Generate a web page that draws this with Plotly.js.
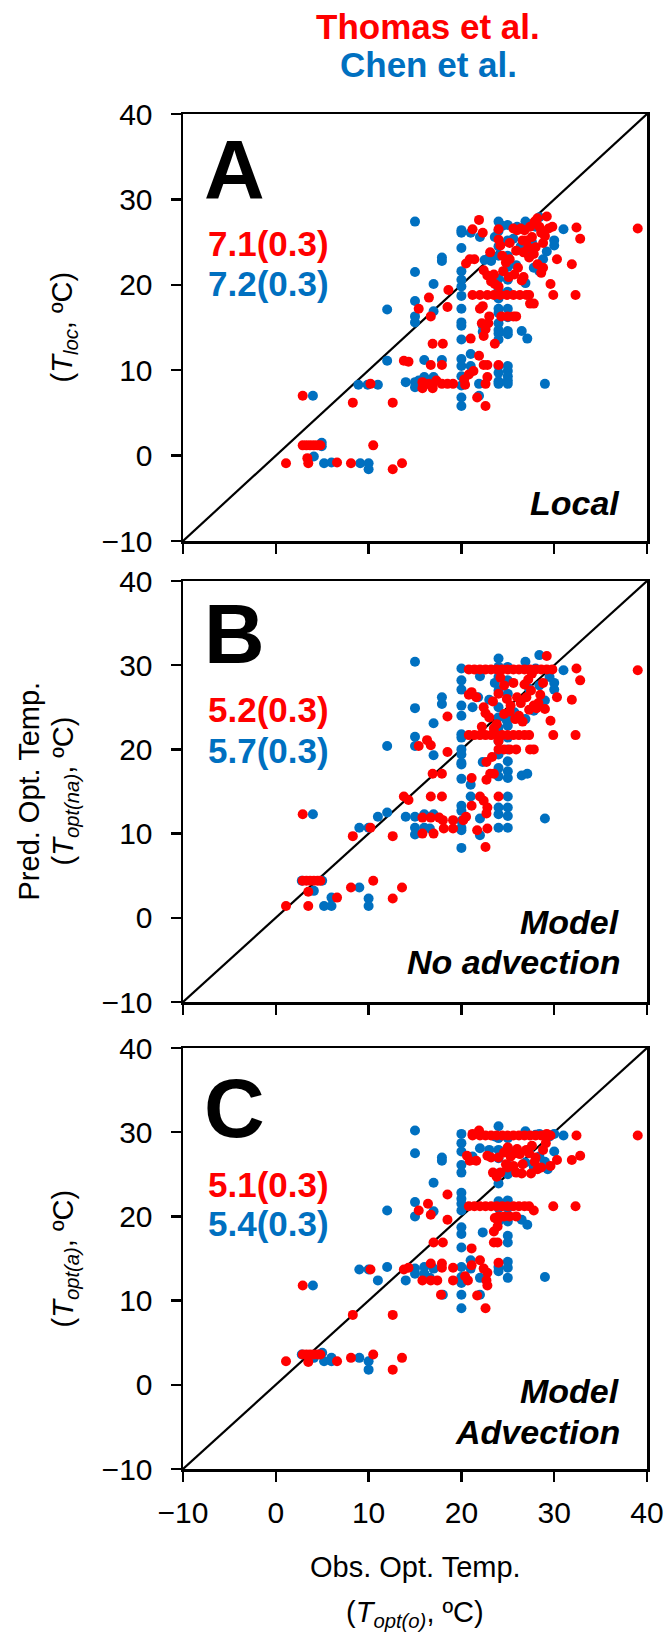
<!DOCTYPE html>
<html><head><meta charset="utf-8">
<script src="https://cdn.plot.ly/plotly-3.0.1.min.js"></script>
<style>html,body{margin:0;padding:0;background:#fff}#chart{width:668px;height:1642px}</style>
</head><body><div id="chart"></div>
<script>
// ---------- DATA (observed optimum temp, predicted temp) ----------
const seriesNames = ["Thomas et al.", "Chen et al."];
const panelLetters = ["A", "B", "C"];
const panelLabels = [["Local"], ["Model", "No advection"], ["Model", "Advection"]];
const rmseThomas = ["7.1(0.3)", "5.2(0.3)", "5.1(0.3)"];
const rmseChen = ["7.2(0.3)", "5.7(0.3)", "5.4(0.3)"];
const yTitles = ["(<i>T</i><sub><i>loc</i></sub>, ºC)", "(<i>T</i><sub><i>opt(na)</i></sub>, ºC)", "(<i>T</i><sub><i>opt(a)</i></sub>, ºC)"];
const tickValues = [-10, 0, 10, 20, 30, 40];

// Panel A – Local temperature
const thomasA = [
[39.0,26.6],[32.4,26.7],[32.8,25.4],[31.9,22.4],[32.3,18.8],[29.9,18.8],[29.6,20.1],[30.3,23.0],[29.2,28.0],
[21.9,27.6],[21.2,26.5],[22.3,26.1],[20.9,23.0],[21.4,23.0],[20.5,22.5],
[21.2,18.8],[22.0,18.8],[22.8,18.8],[23.5,18.8],[24.2,18.8],[24.9,18.8],[25.6,18.8],[26.3,18.8],[27.0,18.8],[27.3,18.8],
[24.3,16.3],[25.0,16.3],[25.6,16.3],[25.9,16.3],
[27.8,17.8],[27.4,17.8],[22.3,17.5],[22.0,17.2],[22.2,15.5],[23.0,16.3],[22.9,15.5],[22.6,14.8],[22.4,14.0],[23.6,13.1],[21.0,13.7],[21.9,11.7],[22.4,10.6],[22.8,10.6],[24.0,10.6],[21.3,9.9],[20.8,9.5],[20.3,8.9],[20.4,8.3],[22.8,9.2],[22.6,8.4],[21.7,6.8],[22.6,5.8],
[18.6,19.4],[18.5,17.4],[16.5,18.5],[15.4,17.2],[16.7,16.3],[16.9,13.1],[18.0,13.1],[16.7,10.6],[17.9,10.6],[13.8,11.1],[14.3,11.0],
[15.8,8.6],[16.5,8.4],[16.9,8.2],[17.3,8.8],[17.9,8.4],[18.5,8.4],[19.1,8.4],[15.8,7.9],[16.9,7.9],
[12.6,6.2],[8.3,6.2],[10.2,8.4],[2.9,7.0],[10.5,1.2],[13.6,-0.9],[12.6,-1.6],[8.1,-0.9],[6.6,-0.8],[1.1,-0.9],[3.5,-0.9],[3.4,-0.3],
[2.9,1.2],[3.3,1.2],[3.7,1.2],[4.1,1.2],[4.5,1.2],[4.8,1.2],
[24.0,26.5],[24.0,25.3],[24.2,24.6],[24.4,23.4],[24.8,22.6],[25.2,24.9],[25.6,26.6],[26.0,26.4],[26.4,26.6],[26.8,26.4],[27.0,25.2],[27.2,24.4],[27.4,26.8],[27.6,25.6],[27.8,23.6],[28.0,24.4],[28.4,26.8],[28.6,26.1],[28.8,24.9],[29.0,25.7],[29.4,26.6],[29.8,26.8],[28.8,22.0],[28.6,21.4],[28.2,22.4],[27.3,23.2],[26.7,23.8],[26.1,22.0],[25.7,21.2],[25.1,20.9],[24.5,21.6],[23.5,21.2],[23.2,20.4],[23.6,20.1],[22.4,21.7],[22.8,21.1],[24.0,19.8],[26.7,20.9],[26.5,20.5],[23.1,23.8],[25.9,24.0],[26.6,25.2],[25.2,23.0],[27.9,27.4],[28.2,27.8]
];
const chenA = [
[15.0,27.4],[15.0,21.5],[15.0,18.1],[15.0,16.3],[15.0,15.6],[17.9,23.2],[17.9,22.8],[17.0,20.1],[17.0,16.9],[12.0,17.1],[12.0,11.1],[16.0,11.2],[17.9,11.2],
[14.0,8.6],[15.0,8.6],[15.4,8.8],[16.0,9.2],[17.0,9.2],[15.0,8.0],[16.0,8.3],
[8.9,8.3],[9.9,8.3],[11.0,8.3],[4.0,7.0],[4.95,1.5],[4.95,1.1],[4.1,-0.1],[5.2,-0.9],[6.0,-0.8],[9.1,-0.9],[10.0,-0.9],[10.0,-1.6],
[20.0,26.1],[20.0,24.3],[20.0,21.6],[20.0,20.6],[20.0,19.8],[20.0,18.7],[20.0,17.2],[20.0,15.6],[20.0,15.2],[20.0,13.6],[20.0,11.3],[20.0,10.5],[20.0,9.3],[20.0,8.2],[20.0,6.8],[20.0,5.8],[20.0,26.4],
[21.0,26.1],[21.0,11.9],[21.0,10.5],[22.0,25.6],[21.9,8.4],[21.9,7.0],[22.5,22.9],[22.3,15.2],[22.3,14.5],
[24.0,27.4],[24.0,26.3],[24.0,24.5],[24.0,23.4],[24.0,20.7],[24.0,19.5],[24.0,18.4],[24.0,17.2],[24.0,16.7],[24.0,15.5],[24.0,14.7],[24.0,14.3],[24.0,13.6],[24.0,10.5],[24.0,9.7],[24.0,8.7],[24.0,8.4],
[25.0,27.0],[25.0,25.2],[25.0,23.4],[25.0,22.1],[25.0,20.6],[25.0,19.2],[25.0,17.2],[25.0,16.2],[25.0,14.6],[25.0,14.2],[25.0,10.5],[25.0,9.9],[25.0,9.3],[25.0,8.8],[25.0,8.4],
[26.5,14.6],[27.1,13.7],[29.0,8.4],[31.0,26.5],[30.0,25.2],[30.0,24.6],[28.4,27.9],[26.9,27.4],[28.0,26.8],[28.4,21.6],[27.8,22.0],[26.9,20.2],[25.9,22.3],[27.2,23.6],[23.0,23.2],[23.2,22.8],[23.6,25.6],[24.4,26.9],[26.0,26.8],[28.8,23.0],[29.2,23.9],[27.6,25.0],[26.4,24.5],[25.6,25.4]
];

// Panel B – Model, no advection
const thomasB = [
[39.0,29.4],[32.4,29.6],[32.8,28.2],[31.9,25.9],[32.3,21.7],[29.9,21.7],[29.6,23.4],[30.3,26.2],[29.2,31.1],
[20.8,29.5],[21.4,29.5],[22.0,29.5],[22.6,29.5],[23.2,29.5],[23.8,29.5],[24.4,29.5],[25.0,29.5],[25.6,29.5],[26.2,29.5],[26.8,29.5],[27.4,29.5],[28.0,29.5],[28.6,29.5],[29.2,29.5],[29.8,29.5],
[20.8,21.7],[21.4,21.7],[22.0,21.7],[22.6,21.7],[23.2,21.7],[23.8,21.7],[24.4,21.7],[25.0,21.7],[25.6,21.7],[26.2,21.7],[26.8,21.7],[27.3,21.7],
[24.0,20.0],[24.6,20.0],[25.2,20.0],[25.9,20.0],[27.8,20.0],[27.4,20.0],
[18.5,23.9],[16.3,21.1],[16.7,20.5],[15.4,20.4],[18.5,19.7],[16.9,17.1],[17.9,17.1],[16.7,14.4],[17.9,14.4],[13.8,14.4],[14.3,14.0],
[15.8,11.9],[16.7,11.9],[17.6,11.9],[18.0,11.6],[19.1,11.6],[18.1,10.6],[19.1,10.6],[15.8,10.0],[17.0,10.0],
[21.1,16.6],[22.0,14.4],[21.1,13.3],[22.4,13.9],[22.8,13.1],[22.7,12.4],[24.0,14.4],[20.5,12.0],[20.2,11.6],[21.7,10.4],[22.8,10.6],[22.6,8.4],
[22.7,16.4],[23.1,17.1],[23.5,17.1],[23.3,19.1],[22.7,18.5],[23.8,23.0],
[12.6,9.7],[8.3,9.7],[10.2,10.7],[2.9,12.3],[10.5,4.4],[13.6,3.6],[12.6,2.3],[8.1,3.6],[6.6,2.4],[1.1,1.4],[3.5,1.4],[3.5,3.1],
[2.9,4.4],[3.3,4.4],[3.7,4.4],[4.1,4.4],[4.5,4.4],[4.8,4.4],
[21.1,26.8],[21.6,26.2],[20.8,26.5],[22.4,25.0],[22.6,24.3],[23.0,23.8],[24.2,28.5],[24.6,27.6],[24.9,26.0],[25.3,25.2],[25.6,27.9],[26.0,26.2],[26.4,25.5],[26.8,27.7],[27.2,28.3],[27.5,27.0],[27.8,25.2],[28.1,24.9],[28.5,26.5],[28.8,27.9],[29.0,24.8],[27.0,26.2],[25.2,24.5],[24.6,24.2],[24.0,26.6],[23.4,25.7],[26.2,24.0],[26.6,23.3],[25.8,23.6],[28.3,25.5],[27.3,24.7],[27.6,29.0],[24.0,21.0],[23.5,22.5],[22.2,22.7]
];
const chenB = [
[15.0,30.4],[15.0,24.9],[15.0,21.5],[15.0,20.4],[17.9,26.2],[17.9,25.4],[17.0,23.1],[17.0,19.3],[12.0,20.4],[12.0,12.5],[11.0,12.0],[9.0,10.7],[10.0,10.7],
[14.0,12.0],[15.0,12.0],[16.0,12.3],[17.0,12.3],[15.0,10.7],[15.0,9.9],[16.0,10.7],[16.6,10.6],
[4.0,12.3],[2.8,4.4],[5.0,4.4],[4.1,3.2],[5.2,1.4],[6.0,1.4],[6.0,2.4],[9.0,3.6],[10.0,2.3],[10.0,1.4],
[20.0,29.6],[20.0,28.2],[20.0,27.1],[20.0,25.2],[20.0,24.0],[20.0,21.8],[20.0,21.4],[20.0,20.0],[20.0,19.4],[20.0,18.4],[20.0,18.2],[20.0,16.5],[20.0,13.3],[20.0,12.7],[20.0,11.5],[20.0,10.7],[20.0,10.4],[20.0,8.3],
[21.0,15.8],[21.0,14.4],[22.0,28.7],[22.0,11.8],[22.0,9.8],[22.3,18.5],[21.2,25.0],
[24.0,30.8],[24.0,29.8],[24.0,28.6],[24.0,27.0],[24.0,25.0],[24.0,23.8],[24.0,22.6],[24.0,21.0],[24.0,19.4],[24.0,17.8],[24.0,16.8],[24.0,13.1],[24.0,12.3],[24.0,10.7],
[25.0,29.8],[25.0,28.2],[25.0,26.6],[25.0,24.2],[25.0,22.8],[25.0,21.4],[25.0,20.0],[25.0,18.6],[25.0,17.4],[25.0,16.6],[25.0,14.4],[25.0,13.1],[25.0,12.1],[25.0,10.7],
[26.5,16.9],[27.1,17.1],[29.0,11.8],[31.0,29.4],[30.0,27.9],[30.0,27.1],[28.4,31.2],[26.9,30.4],[28.0,29.6],[29.0,25.8],[27.8,24.6],[26.9,23.6],[25.7,24.4],[24.9,23.4],[23.0,25.9],[23.6,27.9],[21.8,26.2],[27.3,27.2],[28.4,27.6],[29.5,28.6]
];

// Panel C – Model, advection
const thomasC = [
[39.0,29.6],[32.4,29.6],[32.8,27.2],[31.9,26.7],[32.3,21.2],[29.9,21.2],[29.6,26.0],[30.3,26.7],[29.2,29.8],
[21.2,29.6],[22.0,29.6],[22.6,29.6],[23.2,29.6],[23.8,29.6],[24.4,29.6],[25.0,29.6],[25.6,29.6],[26.2,29.6],[26.8,29.6],[27.4,29.6],[28.0,29.6],[28.6,29.6],[29.2,29.6],[29.6,29.6],
[20.8,21.2],[21.4,21.2],[22.0,21.2],[22.6,21.2],[23.2,21.2],[23.8,21.2],[24.4,21.2],[25.0,21.2],[25.6,21.2],[26.2,21.2],[26.8,21.2],[27.3,21.2],
[24.0,20.0],[24.6,20.0],[25.2,20.0],[25.9,20.0],[27.8,20.7],
[21.9,30.2],[21.2,29.8],[20.6,27.2],[20.9,26.6],[21.6,26.6],
[18.5,22.6],[18.5,19.6],[15.4,20.7],[16.4,21.5],[16.7,20.2],[17.0,16.9],[18.0,16.9],[16.7,14.4],[17.9,14.4],[13.8,13.7],[14.3,13.9],
[15.8,12.4],[16.7,12.4],[17.4,12.4],[19.1,12.4],[17.9,13.9],[19.1,13.9],[17.8,10.7],
[21.1,16.2],[22.0,14.8],[21.1,14.2],[22.4,13.8],[22.8,13.3],[22.7,12.4],[22.8,11.8],[24.0,14.5],[20.4,12.9],[20.7,12.4],[21.7,10.6],[22.6,9.1],
[23.5,16.9],[23.9,16.9],[23.9,19.6],[23.9,18.8],[23.6,19.8],[23.5,18.2],
[12.6,8.3],[8.3,8.3],[10.2,13.7],[2.9,11.8],[10.5,3.6],[13.6,3.2],[12.6,1.8],[8.1,3.2],[6.6,2.8],[1.1,2.8],[3.5,2.7],
[2.9,3.6],[3.3,3.6],[3.7,3.6],[4.1,3.6],[4.5,3.6],[4.8,3.6],
[23.4,25.2],[23.8,24.7],[24.2,25.2],[24.0,27.0],[24.6,27.6],[25.0,28.2],[25.3,27.1],[25.6,26.0],[25.9,25.2],[26.3,27.4],[26.6,26.2],[27.0,27.9],[27.3,27.5],[27.6,28.4],[28.0,27.0],[28.2,25.6],[28.6,25.8],[28.8,27.9],[29.1,28.7],[27.5,25.1],[26.5,25.1],[25.0,25.8],[26.0,28.0],[27.9,26.5],[24.8,26.2],[22.8,27.2],[23.2,27.0],[25.8,27.5]
];
const chenC = [
[15.0,30.2],[15.0,27.5],[15.0,21.7],[15.0,20.0],[17.9,27.0],[17.9,26.6],[17.0,24.0],[17.0,20.6],[12.0,20.7],[12.0,14.0],[11.0,12.4],[9.0,13.7],[10.0,13.7],
[14.0,12.4],[15.0,13.8],[16.0,14.0],[17.0,13.8],[15.0,13.2],[16.0,13.2],[16.6,12.7],[18.0,10.7],
[4.0,11.8],[2.8,3.6],[5.0,3.8],[4.1,3.2],[5.2,2.8],[6.0,2.8],[6.0,3.2],[9.0,3.2],[10.0,2.8],[10.0,1.8],
[20.0,29.8],[20.0,28.7],[20.0,27.7],[20.0,26.1],[20.0,25.2],[20.0,22.8],[20.0,22.1],[20.0,21.5],[20.0,20.7],[20.0,18.7],[20.0,17.9],[20.0,16.3],[20.0,12.8],[20.0,12.1],[20.0,10.7],[20.0,9.1],[20.0,14.0],
[21.0,14.8],[21.0,13.8],[22.0,28.1],[22.0,12.7],[22.0,10.7],[22.3,18.1],[21.2,27.1],
[24.0,30.7],[24.0,29.3],[24.0,27.9],[24.0,26.9],[24.0,25.1],[24.0,23.9],[24.0,21.8],[24.0,21.0],[24.0,19.4],[24.0,14.0],[24.0,13.5],
[25.0,29.3],[25.0,28.1],[25.0,26.1],[25.0,25.0],[25.0,21.9],[25.0,21.0],[25.0,19.4],[25.0,17.7],[25.0,16.9],[25.0,14.6],[25.0,13.9],[25.0,12.7],
[26.5,19.6],[27.1,19.0],[29.0,12.8],[31.0,29.6],[30.0,27.7],[30.0,29.8],[28.4,29.8],[26.9,30.1],[28.0,29.7],[29.0,26.5],[27.8,25.9],[26.9,26.4],[25.7,25.4],[24.9,25.5],[23.0,27.9],[23.6,29.5],[27.3,27.9],[28.4,27.1],[29.5,29.5],[29.3,25.6]
];

// ---------- STYLE / LAYOUT ----------
const W = 668, H = 1642;
const RED = "#FF0000", BLUE = "#0070C0";
const FONT = "Liberation Sans, Arial, Helvetica, sans-serif";
const px = v => v / W;
const py = v => 1 - v / H;
const plotLeft = 183, plotRight = 647;
const panelTops = [114, 581, 1048];
const panelBottoms = [541, 1002, 1469];

const panels = [[thomasA, chenA], [thomasB, chenB], [thomasC, chenC]];
const traces = [];
panels.forEach((pair, i) => {
  const xa = i === 0 ? "x" : "x" + (i + 1);
  const ya = i === 0 ? "y" : "y" + (i + 1);
  // 1:1 reference line across the axis range
  traces.push({x: [tickValues[0], tickValues[tickValues.length - 1]], y: [tickValues[0], tickValues[tickValues.length - 1]],
    xaxis: xa, yaxis: ya, mode: "lines", line: {color: "#000", width: 2.2}, hoverinfo: "skip", showlegend: false, cliponaxis: false});
  const [thomas, chen] = pair;
  traces.push({x: chen.map(p => p[0]), y: chen.map(p => p[1]), xaxis: xa, yaxis: ya, mode: "markers",
    name: seriesNames[1], marker: {color: BLUE, size: 10}, showlegend: false});
  traces.push({x: thomas.map(p => p[0]), y: thomas.map(p => p[1]), xaxis: xa, yaxis: ya, mode: "markers",
    name: seriesNames[0], marker: {color: RED, size: 10}, showlegend: false});
});

function axis(extra) {
  return Object.assign({
    range: [tickValues[0], tickValues[tickValues.length - 1]], tickmode: "array", tickvals: tickValues,
    ticks: "outside", ticklen: 10, tickwidth: 2.5, tickcolor: "#000",
    showline: true, linewidth: 2.5, linecolor: "#000", mirror: true,
    showgrid: false, zeroline: false, fixedrange: true,
    tickfont: {family: FONT, size: 30, color: "#000"}
  }, extra);
}

const layout = {
  width: W, height: H, margin: {l: 0, r: 0, t: 0, b: 0},
  paper_bgcolor: "#fff", plot_bgcolor: "#fff", showlegend: false,
  annotations: []
};
for (let i = 0; i < 3; i++) {
  const s = i === 0 ? "" : String(i + 1);
  layout["xaxis" + s] = axis({domain: [px(plotLeft), px(plotRight)], anchor: "y" + s,
    showticklabels: i === 2, ticklabelstandoff: 5});
  layout["yaxis" + s] = axis({domain: [py(panelBottoms[i]), py(panelTops[i])], anchor: "x" + s,
    ticklabelstandoff: 12});
}

const A = layout.annotations;
function ann(text, x, y, opts) {
  A.push(Object.assign({text: text, x: px(x), y: py(y), xref: "paper", yref: "paper", showarrow: false,
    xanchor: "center", yanchor: "middle", font: {family: FONT, size: 28, color: "#000"}}, opts || {}));
}
// header (series legend)
ann("<b>" + seriesNames[0] + "</b>", 428, 27, {font: {family: FONT, size: 35, color: RED}});
ann("<b>" + seriesNames[1] + "</b>", 428, 65, {font: {family: FONT, size: 35, color: BLUE}});

const letterY = [170, 634, 1108];
const statY = [[243, 284], [709, 750], [1184, 1223]];
const labelY = [[503], [922, 962], [1391, 1432]];
for (let i = 0; i < 3; i++) {
  ann("<b>" + panelLetters[i] + "</b>", 202, letterY[i], {xanchor: "left", font: {family: FONT, size: 84, color: "#000"}});
  ann("<b>" + rmseThomas[i] + "</b>", 206, statY[i][0], {xanchor: "left", font: {family: FONT, size: 35, color: RED}});
  ann("<b>" + rmseChen[i] + "</b>", 206, statY[i][1], {xanchor: "left", font: {family: FONT, size: 35, color: BLUE}});
  panelLabels[i].forEach((t, k) => {
    ann("<b><i>" + t + "</i></b>", 622, labelY[i][k], {xanchor: "right", font: {family: FONT, size: 34, color: "#000"}});
  });
  ann(yTitles[i], 64, (panelTops[i] + panelBottoms[i]) / 2, {textangle: -90, font: {family: FONT, size: 29, color: "#000"}});
}
ann("Pred. Opt. Temp.", 28, (panelTops[1] + panelBottoms[1]) / 2, {textangle: -90, font: {family: FONT, size: 29, color: "#000"}});
ann("Obs. Opt. Temp.", 415, 1567, {font: {family: FONT, size: 29, color: "#000"}});
ann("(<i>T</i><sub><i>opt(o)</i></sub>, ºC)", 415, 1614, {font: {family: FONT, size: 29, color: "#000"}});

Plotly.newPlot("chart", traces, layout, {staticPlot: true, displayModeBar: false});
</script></body></html>
